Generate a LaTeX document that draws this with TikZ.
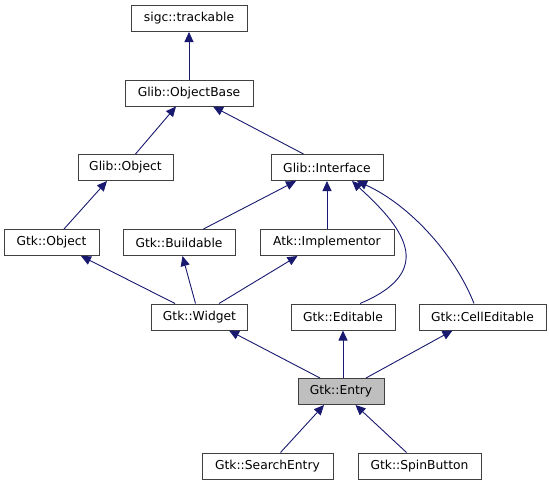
\documentclass[tikz,border=0pt]{standalone}
\usepackage{fontspec}
\setmainfont{DejaVu Sans}
\usetikzlibrary{arrows.meta}
\definecolor{edgeblue}{HTML}{191970}
\definecolor{boxline}{HTML}{404040}
\tikzset{
	cls/.style={draw=boxline, line width=1pt, fill=white, minimum height=26pt,
		inner sep=0pt, font=\fontsize{12.3}{14}\selectfont},
	inh/.style={draw=edgeblue, line width=0.9pt,
		{Triangle[length=10pt,width=9pt]}-}
}
\begin{document}
\begin{tikzpicture}[x=1pt,y=-1pt]
	\useasboundingbox (0,0) rectangle (549,485);

	\node[cls, minimum width=116pt] (track) at (189,18.5) {sigc::trackable};
	\node[cls, minimum width=128pt] (obase) at (189,93) {Glib::ObjectBase};
	\node[cls, minimum width=95pt] (gobj) at (125.5,167.5) {Glib::Object};
	\node[cls, minimum width=112pt] (iface) at (327,167.5) {Glib::Interface};
	\node[cls, minimum width=95pt] (gtkobj) at (51.5,242.5) {Gtk::Object};
	\node[cls, minimum width=112pt] (build) at (179,242.5) {Gtk::Buildable};
	\node[cls, minimum width=134pt] (impl) at (327,242.5) {Atk::Implementor};
	\node[cls, minimum width=96pt] (widget) at (199.5,317) {Gtk::Widget};
	\node[cls, minimum width=104pt] (edit) at (343,317) {Gtk::Editable};
	\node[cls, minimum width=127pt] (celled) at (482.5,317) {Gtk::CellEditable};
	\node[cls, minimum width=86pt, fill=black!25] (entry) at (341,391.5) {Gtk::Entry};
	\node[cls, minimum width=131pt] (search) at (267.5,466) {Gtk::SearchEntry};
	\node[cls, minimum width=123pt] (spin) at (419.5,466) {Gtk::SpinButton};

	% straight inheritance edges: parent/shift/child/shift
	\foreach \p / \ps / \c / \cs in {
		track/0/obase/0,
		obase/-13/gobj/10,
		obase/24/iface/-23.5,
		gobj/-18.5/gtkobj/12.5,
		iface/-31/build/24.5,
		iface/0/impl/0,
		gtkobj/29.5/widget/-24.5,
		build/3.5/widget/-4,
		impl/-29.5/widget/19.5,
		widget/29.5/entry/-21,
		edit/0/entry/2,
		celled/-30/entry/25,
		entry/-17/search/13,
		entry/14.5/spin/-13}
	{
		\draw[inh] ([xshift=\ps pt]\p.south) -- ([xshift=\cs pt]\c.north);
	};

	% curved ones
	\draw[inh] ([xshift=25pt]iface.south) .. controls (400,225) and (440,270) .. ([xshift=17pt]edit.north);
	\draw[inh] ([xshift=30pt]iface.south) .. controls (410,205) and (455,255) .. ([xshift=-8.5pt]celled.north);
\end{tikzpicture}
\end{document}
